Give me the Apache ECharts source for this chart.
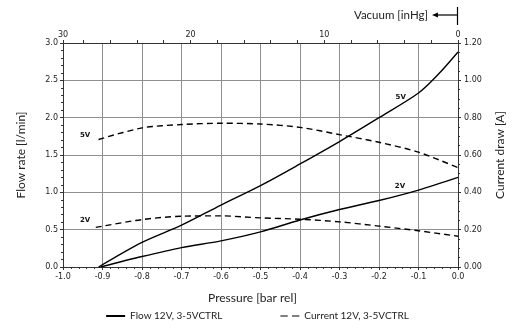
<!DOCTYPE html>
<html>
<head>
<meta charset="utf-8">
<script src="https://cdn.jsdelivr.net/npm/echarts@6/dist/echarts.min.js"></script>
<style>
  html, body { margin: 0; padding: 0; background: #fff; }
  #chart { width: 515px; height: 330px; }
</style>
</head>
<body>
<div id="chart"></div>
<script>
// pressure in bar rel
var flow5vX = [-0.91, -0.8, -0.7, -0.6, -0.5, -0.4, -0.3, -0.2, -0.1, -0.05, 0];
var flow5vY = [0, 0.33, 0.56, 0.83, 1.09, 1.38, 1.68, 2.0, 2.33, 2.58, 2.88];
var flow2vX = [-0.905, -0.8, -0.7, -0.6, -0.5, -0.4, -0.3, -0.2, -0.1, 0];
var flow2vY = [0, 0.14, 0.26, 0.35, 0.47, 0.63, 0.77, 0.89, 1.03, 1.20];
var cur5vX = [-0.91, -0.8, -0.7, -0.6, -0.5, -0.4, -0.3, -0.2, -0.1, 0];
var cur5vY = [0.683, 0.745, 0.763, 0.77, 0.766, 0.748, 0.709, 0.668, 0.615, 0.532];
var cur2vX = [-0.917, -0.8, -0.7, -0.6, -0.5, -0.4, -0.3, -0.2, -0.1, 0];
var cur2vY = [0.212, 0.254, 0.272, 0.274, 0.263, 0.256, 0.242, 0.219, 0.194, 0.165];

// top axis (vacuum)
var inHgLabels = [30, 20, 10, 0];
var inHgTicks = [30, 28, 26, 24, 22, 20, 18, 16, 14, 12, 10, 8, 6, 4, 2, 0];
var BAR_PER_INHG = 0.0338639;

// curve tags: text, x (bar), y (axis value)
var tagText = ['5V', '2V', '5V', '2V'];
var tagX = [-0.145, -0.147, -0.944, -0.944];
var tagY = [2.28, 1.08, 0.704, 0.25];

function pairs(xs, ys) {
  return xs.map(function (x, i) { return [x, ys[i]]; });
}
function toBar(h) { return Math.max(-1, -h * BAR_PER_INHG); }

var tickFont = { fontFamily: 'DejaVu Sans', fontSize: 8, color: '#222' };
var titleFont = { fontFamily: 'Lato', fontSize: 12, color: '#222' };
var gridLine = { show: true, lineStyle: { color: '#8f8f8f', width: 1 } };
var axisLine = { show: true, onZero: false, lineStyle: { color: '#333', width: 1 } };

function tag(i) {
  return {
    symbol: 'rect',
    symbolSize: [2, 2],
    silent: true,
    itemStyle: { color: 'rgba(0,0,0,0)' },
    label: {
      show: true, position: 'inside', formatter: tagText[i], fontFamily: 'DejaVu Sans',
      fontSize: 7, fontWeight: 'bold', color: '#111'
    },
    data: [{ coord: [tagX[i], tagY[i]] }]
  };
}

var solid = { color: '#000', width: 1.4, type: 'solid' };
var dashed = { color: '#000', width: 1.4, type: [6, 4] };

var chart = echarts.init(document.getElementById('chart'));
chart.setOption({
  animation: false,
  grid: { left: 63, right: 57, top: 43, bottom: 63 },
  legend: {
    bottom: 4,
    left: 'center',
    itemGap: 58,
    itemWidth: 19,
    itemHeight: 2,
    textStyle: { fontFamily: 'Lato', fontSize: 10, color: '#222' },
    data: [
      { name: 'Flow 12V, 3-5VCTRL', icon: 'rect' },
      { name: 'Current 12V, 3-5VCTRL', icon: 'path://M0,0h7v1h-7z M11,0h7v1h-7z' }
    ]
  },
  xAxis: [
    {
      type: 'value', min: -1, max: 0, interval: 0.1,
      axisLine: axisLine,
      axisTick: { show: true, length: 3, lineStyle: { color: '#333' } },
      minorTick: { show: true, splitNumber: 5, length: 2, lineStyle: { color: '#333' } },
      splitLine: gridLine,
      axisLabel: Object.assign({ margin: 6, formatter: function (v) { return v.toFixed(1); } }, tickFont),
      name: 'Pressure [bar rel]',
      nameLocation: 'middle',
      nameGap: 25,
      nameTextStyle: Object.assign({ padding: [0, 16, 0, 0] }, titleFont)
    },
    {
      type: 'value', position: 'top', min: -1, max: 0,
      axisLine: axisLine,
      axisTick: {
        show: true, length: 3, inside: false, lineStyle: { color: '#333' },
        customValues: inHgTicks.map(toBar)
      },
      splitLine: { show: false },
      axisLabel: Object.assign({
        margin: 4,
        customValues: inHgLabels.map(toBar),
        formatter: function (v) { return String(Math.round(-v / BAR_PER_INHG)); }
      }, tickFont)
    }
  ],
  yAxis: [
    {
      type: 'value', min: 0, max: 3, interval: 0.5,
      axisLine: axisLine,
      axisTick: { show: true, length: 3, lineStyle: { color: '#333' } },
      minorTick: { show: true, splitNumber: 5, length: 2, lineStyle: { color: '#333' } },
      splitLine: gridLine,
      axisLabel: Object.assign({ margin: 5, formatter: function (v) { return v.toFixed(1); } }, tickFont),
      name: 'Flow rate [l/min]',
      nameLocation: 'middle',
      nameGap: 36,
      nameTextStyle: titleFont
    },
    {
      type: 'value', min: 0, max: 1.2, interval: 0.2,
      axisLine: axisLine,
      axisTick: { show: true, length: 3, lineStyle: { color: '#333' } },
      minorTick: { show: true, splitNumber: 4, length: 2, lineStyle: { color: '#333' } },
      splitLine: { show: false },
      axisLabel: Object.assign({ margin: 6, formatter: function (v) { return v.toFixed(2); } }, tickFont),
      name: 'Current draw [A]',
      nameLocation: 'middle',
      nameGap: 36,
      nameRotate: 90,
      nameTextStyle: titleFont
    }
  ],
  series: [
    {
      name: 'Flow 12V, 3-5VCTRL', type: 'line', smooth: 0.3, symbol: 'none',
      color: '#000', lineStyle: solid, data: pairs(flow5vX, flow5vY), markPoint: tag(0)
    },
    {
      name: 'Flow 12V, 3-5VCTRL', type: 'line', smooth: 0.3, symbol: 'none',
      color: '#000', lineStyle: solid, data: pairs(flow2vX, flow2vY), markPoint: tag(1)
    },
    {
      name: 'Current 12V, 3-5VCTRL', type: 'line', yAxisIndex: 1, smooth: 0.3, symbol: 'none',
      color: '#000', lineStyle: dashed, data: pairs(cur5vX, cur5vY), markPoint: tag(2)
    },
    {
      name: 'Current 12V, 3-5VCTRL', type: 'line', yAxisIndex: 1, smooth: 0.3, symbol: 'none',
      color: '#000', lineStyle: dashed, data: pairs(cur2vX, cur2vY), markPoint: tag(3)
    }
  ],
  graphic: [
    {
      type: 'text', right: 87, top: 9,
      style: { text: 'Vacuum [inHg]', fontFamily: 'Lato', fontSize: 11.5, fill: '#222' }
    },
    { type: 'line', shape: { x1: 437, y1: 15, x2: 457, y2: 15 }, style: { stroke: '#000', lineWidth: 1.2 } },
    { type: 'polygon', shape: { points: [[432, 15], [438, 12.5], [438, 17.5]] }, style: { fill: '#000' } },
    { type: 'line', shape: { x1: 457.5, y1: 7, x2: 457.5, y2: 25 }, style: { stroke: '#000', lineWidth: 1.2 } }
  ]
});
</script>
</body>
</html>
